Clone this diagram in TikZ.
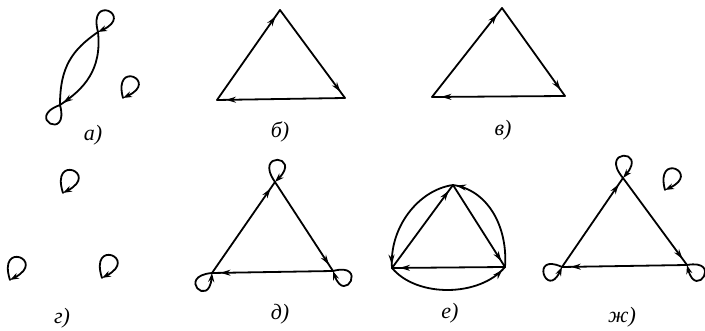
\documentclass[tikz,border=0pt]{standalone}
\usepackage{fontspec}
\setmainfont{Liberation Serif}
\usetikzlibrary{arrows.meta, decorations.markings}

\begin{document}
\begin{tikzpicture}[
  x=1pt, y=1pt,
  line cap=round,
  line join=round,
  edge/.style={line width=1.8pt},
  tip/.style={
    edge,
    postaction={decorate},
    decoration={markings,
      mark=at position #1 with {\arrow{Stealth[length=10pt,width=6pt]}}}
  },
  loopy/.style={edge, -{Stealth[length=9pt,width=6pt]}},
  lbl/.style={font=\itshape\fontsize{22}{22}\selectfont}
]
  \useasboundingbox (0,0) rectangle (705,331);

  % a) two vertices, both ways, and an isolated loop
  \coordinate (a1) at (98,299);
  \coordinate (a2) at (60,226);
  \coordinate (a3) at (123,233);
  \draw[edge] (a2) .. controls +(0,38) and +(-26,-18) .. (a1);
  \draw[tip=0.96] (a1) .. controls +(4,-38) and +(24,16) .. (a2);
  \draw[loopy] (a1) .. controls +(105:40) and +(25:40) .. (a1);
  \draw[edge] (a2) .. controls +(200:38) and +(285:38) .. (a2);
  \draw[loopy] (a3) .. controls +(105:40) and +(25:40) .. (a3);
  \node[lbl] (la) at (93,196) {а)};

  % b) cycle
  \coordinate (b1) at (280,321);
  \coordinate (b2) at (217,231);
  \coordinate (b3) at (345,233);
  \draw[tip=0.93] (b2) -- (b1);
  \draw[tip=0.93] (b1) -- (b3);
  \draw[tip=0.93] (b3) -- (b2);
  \node[lbl] (lb) at (280,199) {б)};

  % v) cycle
  \coordinate (c1) at (502,323);
  \coordinate (c2) at (432,234);
  \coordinate (c3) at (565,235);
  \draw[tip=0.93] (c2) -- (c1);
  \draw[tip=0.93] (c1) -- (c3);
  \draw[tip=0.93] (c3) -- (c2);
  \node[lbl] (lc) at (503,201) {в)};

  % g) three loops
  \coordinate (g1) at (63,138);
  \coordinate (g2) at (10,51);
  \coordinate (g3) at (102,53);
  \foreach \v in {g1,g2,g3}
    \draw[loopy] (\v) .. controls +(108:42) and +(28:42) .. (\v);
  \node[lbl] (lg) at (62,13) {г)};

  % d) cycle with loops
  \coordinate (d1) at (275,149);
  \coordinate (d2) at (212,58);
  \coordinate (d3) at (333,60);
  \draw[tip=0.93] (d2) -- (d1);
  \draw[tip=0.93] (d1) -- (d3);
  \draw[tip=0.93] (d3) -- (d2);
  \draw[loopy] (d1) .. controls +(125:38) and +(45:38) .. (d1);
  \draw[loopy] (d2) .. controls +(185:36) and +(265:36) .. (d2);
  \draw[loopy] (d3) .. controls +(15:36) and +(290:36) .. (d3);
  \node[lbl] (ld) at (280,17) {д)};

  % e) cycle both ways
  \coordinate (e1) at (453,146);
  \coordinate (e2) at (392,63);
  \coordinate (e3) at (505,64);
  \draw[tip=0.93] (e2) -- (e1);
  \draw[tip=0.93] (e1) -- (e3);
  \draw[tip=0.93] (e3) -- (e2);
  \draw[tip=0.97] (e1) .. controls +(-35,-5) and +(-3,40) .. (e2);
  \draw[tip=0.97] (e2) .. controls +(25,-30) and +(-25,-30) .. (e3);
  \draw[tip=0.97] (e3) .. controls +(3,40) and +(35,-5) .. (e1);
  \node[lbl] (le) at (450,18) {е)};

  % zh) cycle with loops and an isolated loop
  \coordinate (f1) at (623,153);
  \coordinate (f2) at (562,64);
  \coordinate (f3) at (687,66);
  \coordinate (f4) at (665,141);
  \draw[tip=0.93] (f2) -- (f1);
  \draw[tip=0.93] (f1) -- (f3);
  \draw[tip=0.93] (f3) -- (f2);
  \draw[loopy] (f1) .. controls +(130:38) and +(50:38) .. (f1);
  \draw[loopy] (f2) .. controls +(155:36) and +(245:36) .. (f2);
  \draw[loopy] (f3) .. controls +(10:36) and +(285:36) .. (f3);
  \draw[loopy] (f4) .. controls +(105:40) and +(25:40) .. (f4);
  \node[lbl] (lf) at (622,14) {ж)};
\end{tikzpicture}
\end{document}
